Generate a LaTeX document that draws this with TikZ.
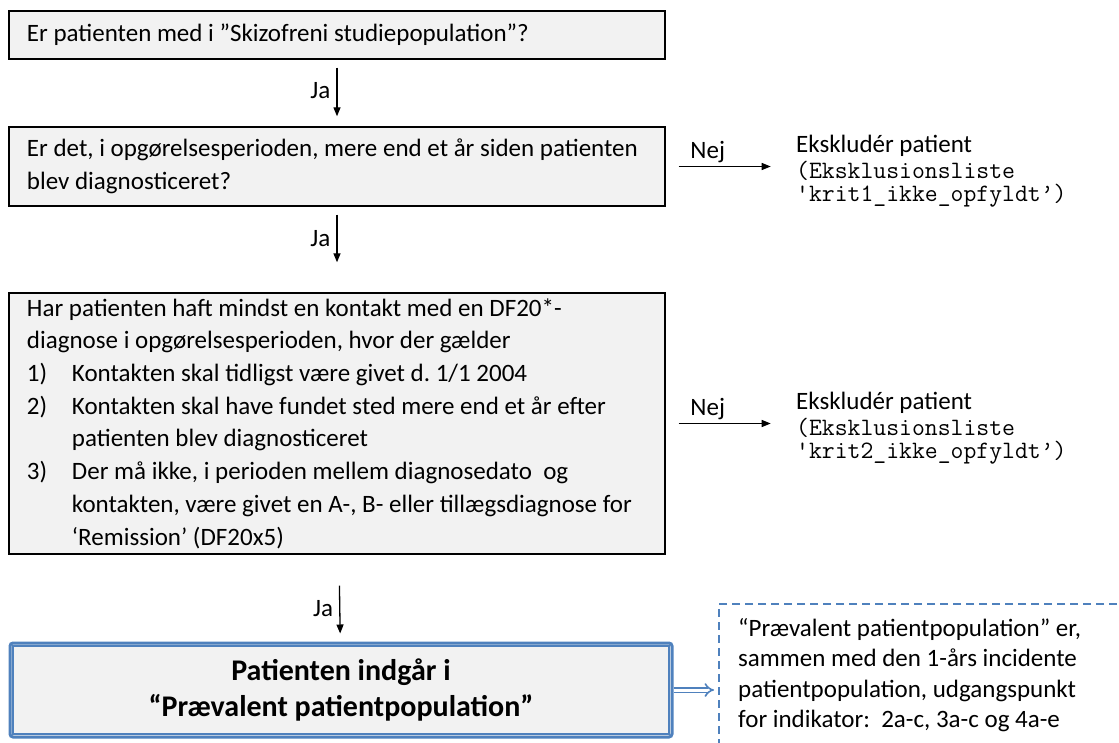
\documentclass[tikz,border=0pt]{standalone}
\usepackage{fontspec}
\setmainfont{Carlito}
\usetikzlibrary{arrows.meta}
\definecolor{boxfill}{HTML}{F2F2F2}
\definecolor{accent}{HTML}{4F81BD}
\tikzset{
  qbox/.style={draw=black, line width=1.4pt, fill=boxfill, inner xsep=18pt, inner ysep=0pt,
    minimum width=656pt, text width=620pt, align=flush left,
    font={\fontsize{25}{32.7}\selectfont\frenchspacing}},
  arr/.style={line width=1.3pt, -{Triangle[length=9pt,width=7pt]}},
  lab/.style={font={\fontsize{25}{30}\selectfont}, inner sep=6pt},
  extitle/.style={font={\fontsize{25}{30}\selectfont}, inner sep=0pt, anchor=west},
  exmono/.style={font={\ttfamily\fontsize{25}{23}\selectfont}, inner sep=0pt, anchor=west, align=flush left},
  dashline/.style={draw=accent, line width=1.5pt, dash pattern=on 8pt off 5pt},
  dbl/.style={draw=accent, double=white, double distance=3pt, line width=1.6pt, -{Implies}},
}
\begin{document}
\begin{tikzpicture}[x=1pt,y=-1pt]
\useasboundingbox (0,0) rectangle (1119,742);

\node[qbox, minimum height=48pt] (b1) at (337,35)
  {Er patienten med i ”Skizofreni studiepopulation”?};
\node[qbox, minimum height=79pt] (b2) at (337,166.5)
  {Er det, i opgørelsesperioden, mere end et år siden patienten\\blev diagnosticeret?};
\node[qbox, minimum height=261pt] (b3) at (337,423.5)
  {Har patienten haft mindst en kontakt med en DF20*-\\
   diagnose i opgørelsesperioden, hvor der gælder\\
   \makebox[45pt][l]{1)}Kontakten skal tidligst være givet d. 1/1 2004\\
   \makebox[45pt][l]{2)}Kontakten skal have fundet sted mere end et år efter\\
   \hspace*{45pt}patienten blev diagnosticeret\\
   \makebox[45pt][l]{3)}Der må ikke, i perioden mellem diagnosedato\ \ og\\
   \hspace*{45pt}kontakten, være givet en A-, B- eller tillægsdiagnose for\\
   \hspace*{45pt}‘Remission’ (DF20x5)};

\node[draw=accent, line width=3pt, rounded corners=3pt, fill=boxfill,
      minimum width=662pt, minimum height=94pt, inner sep=0pt, align=center,
      font={\fontsize{30}{36}\selectfont\bfseries}] (b4) at (341,690)
  {Patienten indgår i\\“Prævalent patientpopulation”};
\draw[accent, line width=2pt] ([shift={(4.5,4.5)}]b4.north west) rectangle ([shift={(-4.5,-4.5)}]b4.south east);

% Ja arrows
\draw[arr, shorten <=8pt, shorten >=10pt] (b1) -- node[lab, left, pos=0.47] (ja1) {Ja} (b2);
\draw[arr, shorten <=8pt, shorten >=30pt] (b2) -- node[lab, left, pos=0.37] (ja2) {Ja} (b3);
\draw[arr, shorten <=31pt, shorten >=8pt] (b3) -- node[lab, left, pos=0.62] (ja3) {Ja} (b4);

% Nej arrows
\path (b2.east) ++(105,0) coordinate (n1);
\path (b3.east) ++(105,0) coordinate (n2);
\draw[arr, shorten <=13pt] (b2.east) -- node[lab, above, inner sep=3pt, pos=0.4] (nej1) {Nej} (n1);
\draw[arr, shorten <=13pt] (b3.east) -- node[lab, above, inner sep=3pt, pos=0.4] (nej2) {Nej} (n2);

\node[extitle] (e1a) at (796,145.5) {Ekskludér patient};
\node[exmono] (e1b) at (796,184) {(Eksklusionsliste\\'krit1\_ikke\_opfyldt’)};
\node[extitle] (e2a) at (796,402.5) {Ekskludér patient};
\node[exmono] (e2b) at (796,441) {(Eksklusionsliste\\'krit2\_ikke\_opfyldt’)};

% dashed note
\coordinate (dl) at (719,604);
\draw[dashline] (1130,604) -- (dl) -- (719,760);
\node[anchor=west, inner sep=0pt, align=flush left, font={\fontsize{25}{30.3}\selectfont}] (dt) at (738,675)
  {“Prævalent patientpopulation” er,\\
   sammen med den 1-års incidente\\
   patientpopulation, udgangspunkt\\
   for indikator:\ \ 2a-c, 3a-c og 4a-e};
\draw[dbl, shorten >=5pt] (b4.east) -- (dl |- b4.east);
\end{tikzpicture}
\end{document}
